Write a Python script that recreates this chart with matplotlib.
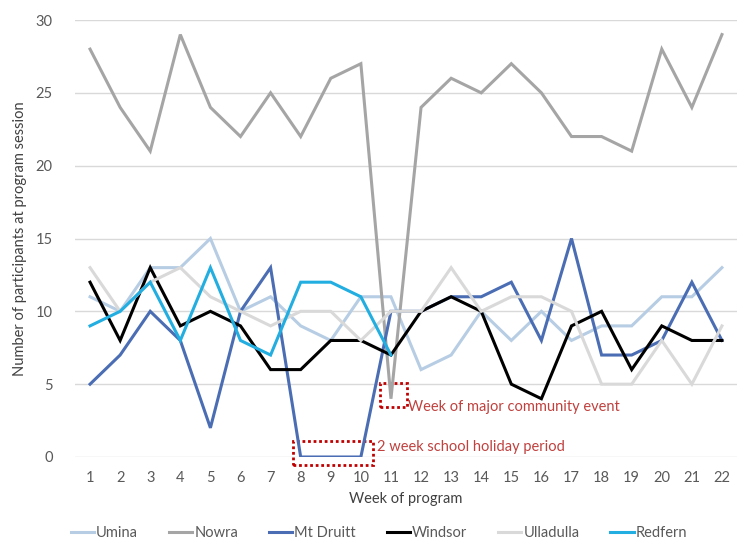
import matplotlib
matplotlib.use("Agg")
import matplotlib.pyplot as plt
from matplotlib.patches import Rectangle

weeks = list(range(1, 23))
umina = [11, 10, 13, 13, 15, 10, 11, 9, 8, 11, 11, 6, 7, 10, 8, 10, 8, 9, 9, 11, 11, 13]
nowra = [28, 24, 21, 29, 24, 22, 25, 22, 26, 27, 4, 24, 26, 25, 27, 25, 22, 22, 21, 28, 24, 29]
mt_druitt = [5, 7, 10, 8, 2, 10, 13, 0, 0, 0, 10, 10, 11, 11, 12, 8, 15, 7, 7, 8, 12, 8]
windsor = [12, 8, 13, 9, 10, 9, 6, 6, 8, 8, 7, 10, 11, 10, 5, 4, 9, 10, 6, 9, 8, 8]
ulladulla = [13, 10, 12, 13, 11, 10, 9, 10, 10, 8, 10, 10, 13, 10, 11, 11, 10, 5, 5, 8, 5, 9]
redfern = [9, 10, 12, 8, 13, 8, 7, 12, 12, 11, 7]
yticks = [0, 5, 10, 15, 20, 25, 30]

series = [
    ("Umina", umina, "#B7CDE4"),
    ("Nowra", nowra, "#A5A5A5"),
    ("Mt Druitt", mt_druitt, "#4A6DB3"),
    ("Windsor", windsor, "#000000"),
    ("Ulladulla", ulladulla, "#D9D9D9"),
    ("Redfern", redfern, "#22AEE0"),
]

plt.rcParams['font.family'] = ['Lato', 'DejaVu Sans']
fig = plt.figure(figsize=(7.37, 5.47), dpi=100)
ax = fig.add_axes([75 / 737, 1 - 457 / 547, (737 - 75) / 737, (457 - 20) / 547])

for name, vals, col in series:
    ax.plot(weeks[:len(vals)], vals, color=col, lw=2.2, label=name, solid_joinstyle='miter')

ax.set_xlim(0.5, 22.5)
ax.set_ylim(0, 30)
ax.set_yticks(yticks)
ax.set_xticks(weeks)
ax.grid(axis='y', color='#D9D9D9', lw=1)
ax.set_axisbelow(True)
for s in ax.spines.values():
    s.set_visible(False)
ax.tick_params(length=0, labelsize=10.5, colors='#595959', pad=10)
ax.tick_params(axis='y', pad=16)
ax.set_xlabel("Week of program", fontsize=10.5, color='#404040', labelpad=5)
ax.set_ylabel("Number of participants at program session", fontsize=10.5, color='#404040', labelpad=6)

red = '#C0413E'
r1 = Rectangle((10.62, 3.43), 0.9, 1.65, fill=False, ec='#C00000', lw=2, ls=(0, (1, 1)), clip_on=False)
r2 = Rectangle((7.73, -0.55), 2.66, 1.65, fill=False, ec='#C00000', lw=2, ls=(0, (1, 1)), clip_on=False)
ax.add_patch(r1)
ax.add_patch(r2)
ax.text(11.58, 3.4, "Week of major community event", color=red, fontsize=10.5, va='center', ha='left')
ax.text(10.55, 0.7, "2 week school holiday period", color=red, fontsize=10.5, va='center', ha='left')

leg = fig.legend(loc='center', bbox_to_anchor=(379 / 737, 1 - 533 / 547), ncol=6, frameon=False,
                 fontsize=10.5, handlelength=1.6, handletextpad=0.15, columnspacing=2.1)
for t in leg.get_texts():
    t.set_color('#595959')

fig.savefig("out.png", dpi=100)
